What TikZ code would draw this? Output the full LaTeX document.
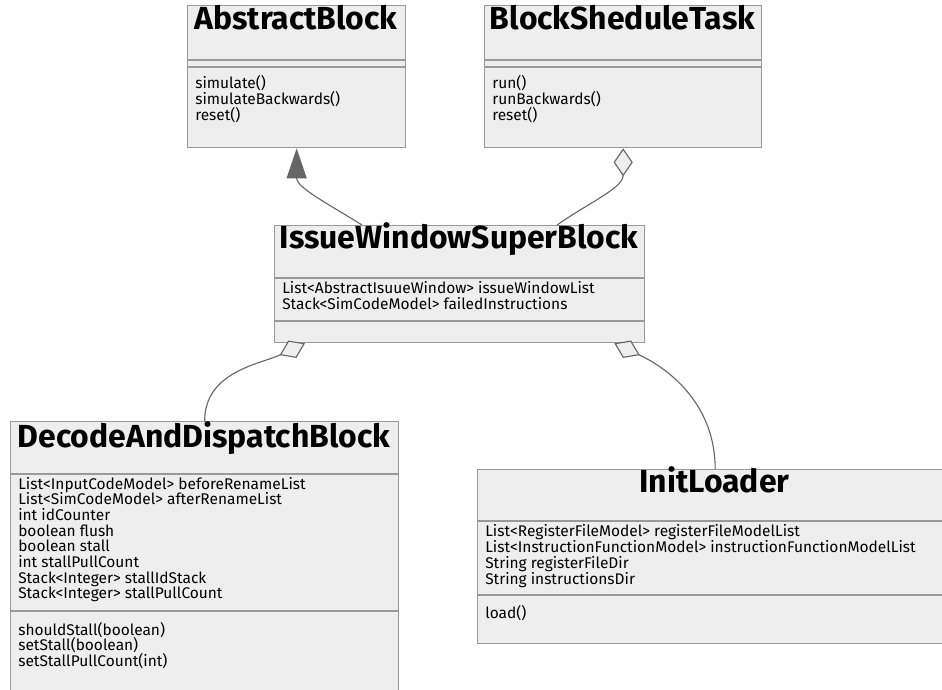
\documentclass[tikz,border=0pt]{standalone}
\usepackage{fontspec}
\setmainfont{Fira Sans}
\usetikzlibrary{positioning, arrows.meta}
\definecolor{boxfill}{HTML}{EEEEEE}
\definecolor{boxline}{HTML}{999999}
\definecolor{linkline}{HTML}{666666}

\begin{document}
\begin{tikzpicture}[x=0.025cm, y=-0.025cm,
	classbox/.style={draw=boxline, fill=boxfill, line width=0.9pt, inner sep=0pt, anchor=north west},
	classname/.style={font=\fontsize{22.7}{26}\selectfont\bfseries, anchor=base, inner sep=0pt},
	member/.style={font=\fontsize{11}{13}\selectfont, anchor=base west, inner sep=0pt},
	divider/.style={draw=boxline, line width=0.9pt},
	link/.style={draw=linkline, line width=0.8pt}]
	\useasboundingbox (0,0) rectangle (942,690);
	\clip (0,0) rectangle (942,690);

	% classes
	\node[classbox, minimum width=5.45cm, minimum height=3.55cm] (ab) at (187,5) {};
	\node[classbox, minimum width=6.925cm, minimum height=3.55cm] (bst) at (484,5) {};
	\node[classbox, minimum width=9.25cm, minimum height=2.925cm] (iwsb) at (274,225) {};
	\node[classbox, minimum width=9.7cm, minimum height=6.975cm] (dadb) at (10,421) {};
	\node[classbox, minimum width=11.875cm, minimum height=4.35cm] (il) at (477,469) {};

	\draw[divider] (187,60) -- (405,60) (187,67) -- (405,67);
	\draw[divider] (484,60) -- (761,60) (484,67) -- (761,67);
	\draw[divider] (274,278) -- (644,278) (274,321) -- (644,321);
	\draw[divider] (10,474) -- (398,474) (10,611) -- (398,611);
	\draw[divider] (477,521) -- (952,521) (477,595) -- (952,595);

	\node[classname] (abname) at (296,30) {AbstractBlock};
	\node[classname] (bstname) at (622.5,30) {BlockSheduleTask};
	\node[classname] (iwsbname) at (459,248) {IssueWindowSuperBlock};
	\node[classname] (dadbname) at (204,447) {DecodeAndDispatchBlock};
	\node[classname] (ilname) at (714.5,492) {InitLoader};

	% members
	\foreach \txt [count=\i from 0] in {simulate(), simulateBackwards(), reset()}
		\node[member] (abm\i) at (195,89+15.5*\i) {\txt};
	\foreach \txt [count=\i from 0] in {run(), runBackwards(), reset()}
		\node[member] (bstm\i) at (492,89+15.5*\i) {\txt};
	\foreach \txt [count=\i from 0] in {List<AbstractIsuueWindow> issueWindowList, Stack<SimCodeModel> failedInstructions}
		\node[member] (iwsba\i) at (282,293+16*\i) {\txt};
	\foreach \txt [count=\i from 0] in {List<InputCodeModel> beforeRenameList, List<SimCodeModel> afterRenameList,
		int idCounter, boolean flush, boolean stall, int stallPullCount,
		Stack<Integer> stallIdStack, Stack<Integer> stallPullCount}
		\node[member] (dadba\i) at (18,489+15.7*\i) {\txt};
	\foreach \txt [count=\i from 0] in {shouldStall(boolean), setStall(boolean), setStallPullCount(int)}
		\node[member] (dadbm\i) at (18,635+15.5*\i) {\txt};
	\foreach \txt [count=\i from 0] in {List<RegisterFileModel> registerFileModelList,
		List<InstructionFunctionModel> instructionFunctionModelList,
		String registerFileDir, String instructionsDir}
		\node[member] (ila\i) at (485,536+16*\i) {\txt};
	\node[member] (ilm0) at (485,618) {load()};

	% relations
	\draw[link, -{Triangle[length=0.75cm, width=0.5cm, fill=linkline]}]
		([xshift=2.2cm]iwsb.north west) to[out=148, in=-90] (ab.south);
	\draw[link, -{Diamond[length=0.7cm, width=0.48cm, fill=boxfill]}]
		([xshift=7.075cm]iwsb.north west) to[out=35, in=-90] (bst.south);
	\draw[link, -{Diamond[length=0.7cm, width=0.48cm, fill=boxfill]}]
		(dadb.north) to[out=90, in=205] ([xshift=0.775cm]iwsb.south west);
	\draw[link, -{Diamond[length=0.7cm, width=0.48cm, fill=boxfill]}]
		(il.north) to[out=90, in=-25] ([xshift=-0.775cm]iwsb.south east);
\end{tikzpicture}
\end{document}
